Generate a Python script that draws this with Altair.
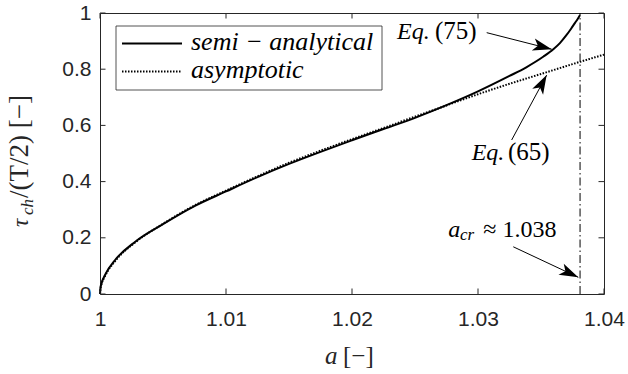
import math
import altair as alt
import pandas as pd

# ---------------- data ----------------
a_semi = [1.0, 1.00005, 1.0001, 1.0004, 1.0012, 1.0028, 1.0049, 1.0075, 1.0100,
          1.0125, 1.0150, 1.0175, 1.0200, 1.0225, 1.0250, 1.0275, 1.0300, 1.0325,
          1.0338, 1.0352, 1.0360, 1.0365, 1.0370, 1.0374, 1.0377, 1.0379, 1.0381]
v_semi = [0.0, 0.025, 0.035, 0.068, 0.121, 0.186, 0.246, 0.313, 0.365,
          0.416, 0.463, 0.506, 0.547, 0.587, 0.627, 0.672, 0.721, 0.776,
          0.806, 0.845, 0.872, 0.893, 0.920, 0.945, 0.965, 0.978, 0.993]

a_asym = [1.0, 1.00005, 1.0001, 1.0004, 1.0012, 1.0028, 1.0049, 1.0075, 1.0100,
          1.0125, 1.0150, 1.0175, 1.0200, 1.0225, 1.0250, 1.0275, 1.0300, 1.0325,
          1.0350, 1.0375, 1.0400]
v_asym = [0.0, 0.022, 0.032, 0.064, 0.117, 0.184, 0.247, 0.315, 0.368,
          0.419, 0.467, 0.510, 0.551, 0.591, 0.631, 0.671, 0.711, 0.748,
          0.783, 0.818, 0.852]

a_cr = 1.0381

x_ticks = [1.0, 1.01, 1.02, 1.03, 1.04]
y_ticks = [0.0, 0.2, 0.4, 0.6, 0.8, 1.0]

ann_text = ["Eq.", "(75)", "Eq.", "(65)", "a", "cr", "≈ 1.038"]
ann_a = [1.02357, 1.02659, 1.02950, 1.03238, 1.02764, 1.02857, 1.03042]
ann_v = [0.9075, 0.9075, 0.4769, 0.4769, 0.2039, 0.1904, 0.2039]
ann_italic = [True, False, True, False, True, True, False]
ann_size = [24, 25, 24, 25, 24, 17, 24]

arrow_a0 = [1.03069, 1.03267, 1.0328]
arrow_v0 = [0.930, 0.548, 0.168]
arrow_a1 = [1.03585, 1.03545, 1.03796]
arrow_v1 = [0.871, 0.779, 0.0594]

legend_labels = ["semi − analytical", "asymptotic"]

# ---------------- layout ----------------
W, H = 504, 281
X_DOM = [1.0, 1.04]
Y_DOM = [0.0, 1.0]
AX = "#262626"
SERIF = "Liberation Serif, Times New Roman, Times, DejaVu Serif, serif"
SANS = "Liberation Sans, Arial, Helvetica, sans-serif"

xs = alt.Scale(domain=X_DOM, nice=False, zero=False)
ys = alt.Scale(domain=Y_DOM, nice=False, zero=False)
xaxis = alt.Axis(values=x_ticks, format=".2~f", labelFont=SANS, labelFontSize=21,
                 labelColor=AX, ticks=False, domain=False, grid=False,
                 labelPadding=14, title=None, labelFlush=False)
yaxis = alt.Axis(values=y_ticks, format=".1~f", labelFont=SANS, labelFontSize=21,
                 labelColor=AX, ticks=False, domain=False, grid=False,
                 labelPadding=9, title=None, labelFlush=False)


def X(f):
    return alt.X(f, type="quantitative", scale=xs, axis=xaxis)


def Y(f):
    return alt.Y(f, type="quantitative", scale=ys, axis=yaxis)


df_semi = pd.DataFrame({"a": a_semi, "v": v_semi})
df_asym = pd.DataFrame({"a": a_asym, "v": v_asym})
df_cr = pd.DataFrame({"a": [a_cr], "v0": [0.0], "v1": [1.0]})
df_xt = pd.DataFrame({"t": x_ticks})
df_yt = pd.DataFrame({"t": y_ticks})
df_ann = pd.DataFrame({"a": ann_a, "v": ann_v, "text": ann_text,
                       "it": ann_italic, "size": ann_size})

angles = []
for a0, v0, a1, v1 in zip(arrow_a0, arrow_v0, arrow_a1, arrow_v1):
    dx = (a1 - a0) * W / (X_DOM[1] - X_DOM[0])
    dy = -(v1 - v0) * H / (Y_DOM[1] - Y_DOM[0])
    angles.append(math.degrees(math.atan2(dy, dx)) % 360)
df_arr = pd.DataFrame({"a0": arrow_a0, "v0": arrow_v0, "a1": arrow_a1,
                       "v1": arrow_v1, "ang": angles})
one = pd.DataFrame({"k": [0]})

layers = []

# curves
layers.append(alt.Chart(df_semi).mark_line(color="black", strokeWidth=2,
                                           interpolate="monotone")
              .encode(x=X("a"), y=Y("v")))
layers.append(alt.Chart(df_asym).mark_line(color="black", strokeWidth=2,
                                           strokeDash=[1.5, 1.5],
                                           interpolate="monotone")
              .encode(x=X("a"), y=Y("v")))
# critical line
layers.append(alt.Chart(df_cr).mark_rule(color="black", strokeWidth=1,
                                         strokeDash=[8, 3, 1.5, 3])
              .encode(x=X("a"), y=Y("v0"), y2="v1"))

# inward ticks on all four sides
TK = 5.5
layers.append(alt.Chart(df_xt).mark_rule(color=AX, strokeWidth=1)
              .encode(x=X("t"), y=alt.value(H), y2=alt.value(H - TK)))
layers.append(alt.Chart(df_xt).mark_rule(color=AX, strokeWidth=1)
              .encode(x=X("t"), y=alt.value(0), y2=alt.value(TK)))
layers.append(alt.Chart(df_yt).mark_rule(color=AX, strokeWidth=1)
              .encode(y=Y("t"), x=alt.value(0), x2=alt.value(TK)))
layers.append(alt.Chart(df_yt).mark_rule(color=AX, strokeWidth=1)
              .encode(y=Y("t"), x=alt.value(W), x2=alt.value(W - TK)))

# arrows
layers.append(alt.Chart(df_arr).mark_rule(color="black", strokeWidth=1)
              .encode(x=X("a0"), y=Y("v0"), x2="a1", y2="v1"))
HEAD = "M0,0 L-2,-0.65 L-1.5,0 L-2,0.65 Z"
layers.append(alt.Chart(df_arr).mark_point(shape=HEAD, filled=True, color="black",
                                           opacity=1, size=360, strokeWidth=0)
              .encode(x=X("a1"), y=Y("v1"), angle=alt.Angle("ang:Q", scale=None)))

# annotation texts
for it in (True, False):
    sub = df_ann[df_ann["it"] == it]
    layers.append(alt.Chart(sub).mark_text(font=SERIF, fontStyle="italic" if it else "normal",
                                           align="left", baseline="alphabetic",
                                           color="black")
                  .encode(x=X("a"), y=Y("v"), text="text:N",
                          size=alt.Size("size:Q", scale=None, legend=None)))

# legend (drawn box, samples and labels)
layers.append(alt.Chart(one).mark_rect(fill="white", stroke=AX, strokeWidth=0.8)
              .encode(x=alt.value(16), x2=alt.value(282), y=alt.value(13), y2=alt.value(77)))
layers.append(alt.Chart(one).mark_rule(color="black", strokeWidth=2)
              .encode(x=alt.value(22), x2=alt.value(82), y=alt.value(30.5)))
layers.append(alt.Chart(one).mark_rule(color="black", strokeWidth=2, strokeDash=[1.5, 1.5])
              .encode(x=alt.value(22), x2=alt.value(82), y=alt.value(58.5)))
layers.append(alt.Chart(one).mark_text(font=SERIF, fontStyle="italic", fontSize=26,
                                       align="left", baseline="alphabetic", color="black",
                                       text=legend_labels[0])
              .encode(x=alt.value(91), y=alt.value(37)))
layers.append(alt.Chart(one).mark_text(font=SERIF, fontStyle="italic", fontSize=26,
                                       align="left", baseline="alphabetic", color="black",
                                       text=legend_labels[1])
              .encode(x=alt.value(91), y=alt.value(65)))

# axis titles
layers.append(alt.Chart(one).mark_text(font=SERIF, fontStyle="italic", fontSize=25,
                                       align="left", baseline="alphabetic", color=AX, text="a")
              .encode(x=alt.value(225), y=alt.value(351)))
layers.append(alt.Chart(one).mark_text(font=SERIF, fontSize=25,
                                       align="left", baseline="alphabetic", color=AX, text="[−]")
              .encode(x=alt.value(243), y=alt.value(351)))
layers.append(alt.Chart(one).mark_text(font=SERIF, fontStyle="italic", fontSize=23, angle=270,
                                       align="left", baseline="alphabetic", color=AX, text="τ")
              .encode(x=alt.value(-72), y=alt.value(214)))
layers.append(alt.Chart(one).mark_text(font=SERIF, fontStyle="italic", fontSize=17, angle=270,
                                       align="left", baseline="alphabetic", color=AX, text="ch")
              .encode(x=alt.value(-67), y=alt.value(202)))
layers.append(alt.Chart(one).mark_text(font=SERIF, fontSize=27, angle=270,
                                       align="left", baseline="alphabetic", color=AX,
                                       text="/(T/2) [−]")
              .encode(x=alt.value(-72), y=alt.value(185)))

chart = (alt.layer(*layers)
         .properties(width=W, height=H,
                     autosize=alt.AutoSizeParams(type="none"),
                     padding={"left": 100, "top": 13, "right": 24, "bottom": 80},
                     background="white")
         .configure_view(stroke=AX, strokeWidth=1))

chart.save("out.html", embed_options={"renderer": "svg", "actions": False})
